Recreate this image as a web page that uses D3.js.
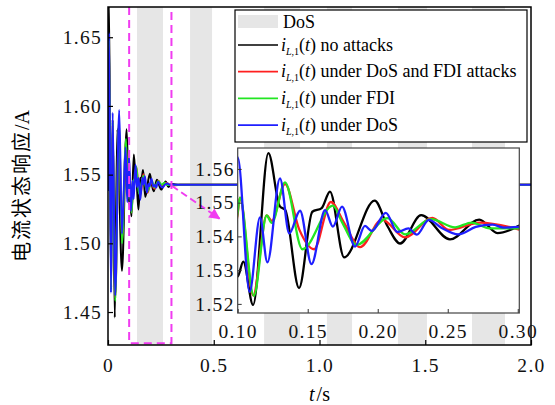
<!DOCTYPE html>
<html>
<head>
<meta charset="utf-8">
<script src="https://cdn.jsdelivr.net/npm/d3@7"></script>
<style>
  body { margin: 0; background: #fff; }
  svg { display: block; }
  .tick text { font-family: "Liberation Serif", "Times New Roman", serif; font-size: 19.5px; letter-spacing: 1.3px; fill: #111; }
  .legend text { font-family: "Liberation Serif", "Times New Roman", serif; font-size: 18px; fill: #000; }
</style>
</head>
<body>
<div class="chart"></div>
<script>
// DATA ------------------------------------------------------------
// DoS attack intervals (s)
const dosIntervals = [[0.137, 0.260], [0.388, 0.492], [0.738, 0.908], [1.035, 1.154], [1.371, 1.508], [1.721, 1.877]];
// zoomed window shown in the inset
const zoomWindow = [0.10, 0.30];

// i_L,1(t) no attacks  [t, value]
const noAttack = [[0, 1.538], [0.004, 1.680], [0.014, 1.490], [0.022, 1.590], [0.032, 1.446], [0.044, 1.583],
  [0.066, 1.480], [0.088, 1.583], [0.0999, 1.5281], [0.104, 1.5325], [0.111, 1.5197], [0.1219, 1.5647],
  [0.1300, 1.5490], [0.1340, 1.5478], [0.1438, 1.5247], [0.1533, 1.5473], [0.1600, 1.5484], [0.1659, 1.5533],
  [0.1760, 1.5338], [0.1978, 1.5506], [0.2070, 1.5430], [0.2160, 1.5379], [0.2310, 1.5463], [0.2516, 1.5391],
  [0.2725, 1.5450], [0.2855, 1.5410], [0.3011, 1.5432]];
// under DoS and FDI attacks
const dosFdi = [[0, 1.538], [0.005, 1.645], [0.015, 1.468], [0.022, 1.586], [0.034, 1.460], [0.052, 1.588],
  [0.066, 1.502], [0.085, 1.574], [0.093, 1.534], [0.0999, 1.5465], [0.1016, 1.5515], [0.111, 1.5225],
  [0.1207, 1.5462], [0.1243, 1.5446], [0.1338, 1.5555], [0.1440, 1.5420], [0.1545, 1.5362], [0.1665, 1.5502],
  [0.1760, 1.5440], [0.1874, 1.5368], [0.2030, 1.5450], [0.2195, 1.5397], [0.2390, 1.5455], [0.2510, 1.5419],
  [0.2730, 1.5441], [0.3011, 1.5420]];
// under FDI
const fdiOnly = [[0, 1.538], [0.005, 1.648], [0.015, 1.466], [0.022, 1.588], [0.034, 1.458], [0.052, 1.590],
  [0.066, 1.500], [0.085, 1.576], [0.093, 1.532], [0.0999, 1.5469], [0.1016, 1.5515], [0.1115, 1.5224],
  [0.1207, 1.5462], [0.1243, 1.5440], [0.1338, 1.5560], [0.1462, 1.5362], [0.1680, 1.5491], [0.1743, 1.5444],
  [0.1850, 1.5375], [0.2070, 1.5454], [0.2195, 1.5406], [0.2380, 1.5451], [0.2552, 1.5427], [0.2671, 1.5441],
  [0.2800, 1.5424], [0.3011, 1.5424]];
// under DoS
const dosOnly = [[0, 1.538], [0.005, 1.653], [0.014, 1.464], [0.022, 1.595], [0.034, 1.462], [0.053, 1.597],
  [0.066, 1.507], [0.083, 1.570], [0.091, 1.530], [0.1000, 1.5634], [0.1085, 1.5236], [0.1159, 1.5456],
  [0.1212, 1.5323], [0.1302, 1.5572], [0.1368, 1.5409], [0.1445, 1.5476], [0.1527, 1.5318], [0.1624, 1.5478],
  [0.1680, 1.5429], [0.1745, 1.5488], [0.1838, 1.5370], [0.1909, 1.5431], [0.1957, 1.5416], [0.2058, 1.5470],
  [0.2140, 1.5413], [0.2219, 1.5424], [0.2279, 1.5405], [0.2365, 1.5449], [0.2457, 1.5425], [0.2576, 1.5406],
  [0.2700, 1.5428], [0.2820, 1.5435], [0.2900, 1.5426], [0.3011, 1.5428]];
// all responses settle here after the window
const steadyTail = [[0.34, 1.5426], [2.0, 1.5426]];

const xTicks = [0, 0.5, 1.0, 1.5, 2.0];
const xTickLabels = ["0", "0.5", "1.0", "1.5", "2.0"];
const yTicks = [1.45, 1.50, 1.55, 1.60, 1.65];
const insetXTicks = [0.10, 0.15, 0.20, 0.25, 0.30];
const insetYTicks = [1.52, 1.53, 1.54, 1.55, 1.56];
const legendNames = ["no attacks", "under DoS and FDI attacks", "under FDI", "under DoS"];

// CHART INIT ------------------------------------------------------
const margin = { top: 7, right: 24, bottom: 60, left: 108 };
const width = 555 - margin.left - margin.right,
  height = 405 - margin.top - margin.bottom;

const series = [noAttack, dosFdi, fdiOnly, dosOnly];
const colors = ["#000000", "#ff1f1f", "#22e622", "#1f1fff"];
const magenta = "#f03cf0";

const root = d3.select(".chart").append("svg")
  .attr("width", 555)
  .attr("height", 405);

const defs = root.append("defs");
defs.append("clipPath").attr("id", "clip-main")
  .append("rect").attr("width", width).attr("height", height);
defs.append("marker")
  .attr("id", "arrow")
  .attr("viewBox", "0 0 10 10")
  .attr("refX", 9).attr("refY", 5)
  .attr("markerUnits", "userSpaceOnUse")
  .attr("markerWidth", 14).attr("markerHeight", 11)
  .attr("orient", "auto")
  .append("path").attr("d", "M0,0 L10,5 L0,10 z").attr("fill", magenta);

const svg = root.append("g")
  .attr("transform", `translate(${margin.left}, ${margin.top})`);

const xScale = d3.scaleLinear().domain([0, 2]).range([0, width]);
const yScale = d3.scaleLinear().domain([1.426, 1.672]).range([height, 0]);

// DoS bands
svg.append("g").attr("clip-path", "url(#clip-main)")
  .selectAll("rect")
  .data(dosIntervals)
  .enter().append("rect")
  .attr("x", d => xScale(d[0]))
  .attr("width", d => xScale(d[1]) - xScale(d[0]))
  .attr("y", 0)
  .attr("height", height)
  .attr("fill", "#e6e6e6");

// main curves
const mainLine = d3.line()
  .x(d => xScale(d[0]))
  .y(d => yScale(d[1]))
  .curve(d3.curveMonotoneX);

svg.append("g").attr("clip-path", "url(#clip-main)")
  .selectAll("path")
  .data(series)
  .enter().append("path")
  .attr("d", d => mainLine(d.concat(steadyTail)))
  .attr("fill", "none")
  .attr("stroke", (d, i) => colors[i])
  .attr("stroke-width", 2)
  .attr("stroke-linejoin", "round");

// zoom window marker
const yLo = yScale.domain()[0] + 0.0012, yHi = yScale.domain()[1];
svg.append("path")
  .attr("d", `M${xScale(zoomWindow[0])},${yScale(yHi)} L${xScale(zoomWindow[0])},${yScale(yLo)}
    L${xScale(zoomWindow[1])},${yScale(yLo)} L${xScale(zoomWindow[1])},${yScale(yHi)}`)
  .attr("fill", "none")
  .attr("stroke", magenta)
  .attr("stroke-width", 2)
  .attr("stroke-dasharray", "8,5");

svg.append("line")
  .attr("x1", xScale(0.303)).attr("y1", yScale(1.5417))
  .attr("x2", xScale(0.527)).attr("y2", yScale(1.5180))
  .attr("stroke", magenta)
  .attr("stroke-width", 2)
  .attr("stroke-dasharray", "7,4")
  .attr("marker-end", "url(#arrow)");

// axes
svg.append("g")
  .attr("class", "x-axis")
  .attr("transform", `translate(0, ${height})`)
  .call(d3.axisBottom(xScale).tickValues(xTicks)
    .tickFormat((d, i) => xTickLabels[i])
    .tickSizeInner(-5).tickSizeOuter(0).tickPadding(13));

svg.append("g")
  .attr("class", "y-axis")
  .call(d3.axisLeft(yScale).tickValues(yTicks)
    .tickFormat(d3.format(".2f"))
    .tickSizeInner(-5).tickSizeOuter(0).tickPadding(6));

svg.selectAll(".x-axis .domain, .y-axis .domain").remove();
svg.selectAll(".tick line").attr("stroke", "#000").attr("stroke-width", 1.2);

svg.append("rect")
  .attr("width", width).attr("height", height)
  .attr("fill", "none")
  .attr("stroke", "#000")
  .attr("stroke-width", 1.5);

// axis titles
svg.append("text")
  .attr("x", width / 2)
  .attr("y", 394)
  .attr("text-anchor", "middle")
  .style("font-family", "'Liberation Serif', serif")
  .style("font-size", "20px")
  .html('<tspan font-style="italic">t</tspan><tspan dx="2">/s</tspan>');

root.append("text")
  .attr("transform", "translate(29, 186) rotate(-90)")
  .attr("text-anchor", "middle")
  .style("font-size", "20px")
  .html('<tspan style="font-family:\'Noto Sans CJK SC\';letter-spacing:2px">电流状态响应</tspan><tspan style="font-family:\'Liberation Serif\',serif">/A</tspan>');

// LEGEND ----------------------------------------------------------
const legend = root.append("g").attr("class", "legend")
  .attr("transform", "translate(235, 10)");

legend.append("rect")
  .attr("width", 292).attr("height", 132)
  .attr("fill", "#fff")
  .attr("stroke", "#000")
  .attr("stroke-width", 1.2);

legend.append("rect")
  .attr("x", 3).attr("y", 5).attr("width", 40).attr("height", 13)
  .attr("fill", "#e6e6e6");
legend.append("text").attr("x", 48).attr("y", 18).text("DoS");

const rows = legend.selectAll(".row")
  .data(legendNames)
  .enter().append("g")
  .attr("class", "row")
  .attr("transform", (d, i) => `translate(0, ${35 + i * 26.7})`);

rows.append("line")
  .attr("x1", 3).attr("x2", 43)
  .attr("stroke", (d, i) => colors[i])
  .attr("stroke-width", 1.7);

rows.append("text")
  .attr("x", 46).attr("y", 5.5)
  .html(d => `<tspan font-style="italic">i</tspan><tspan font-size="10px" dy="4"><tspan font-style="italic">L</tspan>,1</tspan><tspan dy="-4">(</tspan><tspan font-style="italic">t</tspan><tspan>) ${d}</tspan>`);

// INSET -----------------------------------------------------------
const inset = { left: 237.7, top: 148, width: 281.6, height: 165 };
const ix = d3.scaleLinear().domain([0.10, 0.3011]).range([0, inset.width]);
const iy = d3.scaleLinear().domain([1.5173, 1.5662]).range([inset.height, 0]);

defs.append("clipPath").attr("id", "clip-inset")
  .append("rect").attr("width", inset.width).attr("height", inset.height);

const ig = root.append("g")
  .attr("transform", `translate(${inset.left}, ${inset.top})`);

ig.append("rect")
  .attr("width", inset.width).attr("height", inset.height)
  .attr("fill", "#fff");

const insetLine = d3.line()
  .x(d => ix(d[0]))
  .y(d => iy(d[1]))
  .curve(d3.curveMonotoneX);

ig.append("g").attr("clip-path", "url(#clip-inset)")
  .selectAll("path")
  .data(series)
  .enter().append("path")
  .attr("d", d => insetLine(d.filter(p => p[0] >= 0.085)))
  .attr("fill", "none")
  .attr("stroke", (d, i) => colors[i])
  .attr("stroke-width", 2.3);

ig.append("g")
  .attr("class", "ix-axis")
  .attr("transform", `translate(0, ${inset.height})`)
  .call(d3.axisBottom(ix).tickValues(insetXTicks)
    .tickFormat(d3.format(".2f"))
    .tickSizeInner(-4).tickSizeOuter(0).tickPadding(11));

ig.append("g")
  .attr("class", "iy-axis")
  .call(d3.axisLeft(iy).tickValues(insetYTicks)
    .tickFormat(d3.format(".2f"))
    .tickSizeInner(-4).tickSizeOuter(0).tickPadding(3));

ig.selectAll(".domain").remove();
ig.selectAll(".tick line").attr("stroke", "#333");

ig.append("rect")
  .attr("width", inset.width).attr("height", inset.height)
  .attr("fill", "none")
  .attr("stroke", "#444")
  .attr("stroke-width", 1.2);
</script>
</body>
</html>
